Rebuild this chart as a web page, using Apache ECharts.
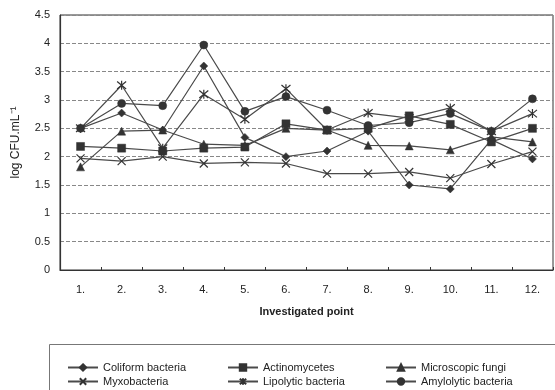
<!DOCTYPE html>
<html>
<head>
<meta charset="utf-8">
<script src="https://cdn.jsdelivr.net/npm/echarts@6/dist/echarts.min.js"></script>
<style>
    html, body { margin: 0; padding: 0; background: #fff; }
    #chart { width: 555px; height: 390px; }
</style>
</head>
<body>
<div id="chart"></div>
<script>
/* ========== log CFU per investigated point ========== */

const points = ["1.", "2.", "3.", "4.", "5.", "6.", "7.", "8.", "9.", "10.", "11.", "12."];

const coliform     = [2.50, 2.77, 2.47, 3.60, 2.34, 2.00, 2.10, 2.45, 1.50, 1.43, 2.30, 1.96];
const actinomyc    = [2.18, 2.15, 2.10, 2.15, 2.17, 2.58, 2.47, 2.50, 2.72, 2.57, 2.26, 2.50];
const fungi        = [1.82, 2.45, 2.47, 2.22, 2.20, 2.50, 2.47, 2.20, 2.19, 2.12, 2.35, 2.26];
const myxo         = [1.97, 1.92, 2.00, 1.88, 1.90, 1.88, 1.70, 1.70, 1.73, 1.62, 1.87, 2.09];
const lipolytic    = [2.50, 3.26, 2.15, 3.10, 2.66, 3.20, 2.47, 2.77, 2.68, 2.86, 2.45, 2.76];
const amylolytic   = [2.50, 2.94, 2.90, 3.97, 2.80, 3.06, 2.82, 2.55, 2.60, 2.76, 2.45, 3.02];

const yTicks = [0, 0.5, 1, 1.5, 2, 2.5, 3, 3.5, 4, 4.5];

const FONT = "Liberation Sans";
const INK = "#333";
const LINE = "#4a4a4a";

const X_MARK = "path://M0,0L10,10M10,0L0,10";
const STAR_MARK = "path://M0,0L10,10M10,0L0,10M5,-1L5,11";

function mkSeries(name, data, symbol, size, stroke) {
    return {
        name, type: "line", data,
        symbol, symbolSize: size,
        lineStyle: { color: LINE, width: 1.2 },
        itemStyle: stroke
            ? { color: "rgba(0,0,0,0)", borderColor: INK, borderWidth: 1.2 }
            : { color: INK, borderColor: INK, borderWidth: 0.5 },
        emphasis: { disabled: true },
        animation: false,
    };
}

// one legend per entry so the 3x2 layout is fixed
function mkLegend(name, left, top) {
    return {
        left, top, data: [name],
        itemWidth: 30, itemHeight: 8,
        textStyle: { fontFamily: FONT, fontSize: 11, color: "#222" },
        selectedMode: false,
    };
}

const chart = echarts.init(document.getElementById("chart"));

chart.setOption({
    backgroundColor: "#fff",
    grid: { left: 60, right: 2, top: 15, bottom: 120, show: true, borderColor: INK, borderWidth: 1 },
    xAxis: {
        type: "category", data: points, boundaryGap: true,
        name: "Investigated point", nameLocation: "middle", nameGap: 36,
        nameTextStyle: { fontFamily: FONT, fontSize: 11, fontWeight: "bold", color: "#222" },
        axisLine: { lineStyle: { color: INK, width: 1.2 } },
        axisTick: { show: true, inside: true, length: 3, lineStyle: { color: INK } },
        axisLabel: { fontFamily: FONT, fontSize: 11, color: "#222", margin: 14 },
    },
    yAxis: {
        type: "value", min: yTicks[0], max: yTicks[yTicks.length - 1], interval: 0.5,
        name: "log CFU.mL\u207B\u00B9", nameLocation: "middle", nameGap: 38, nameRotate: 90,
        nameTextStyle: { fontFamily: FONT, fontSize: 12, color: "#222" },
        axisLine: { show: true, lineStyle: { color: INK, width: 1.2 } },
        axisTick: { show: false },
        axisLabel: { fontFamily: FONT, fontSize: 11, color: "#222", margin: 10 },
        splitLine: { lineStyle: { color: "#888", type: [4, 2], width: 1 } },
    },
    legend: [
        mkLegend("Coliform bacteria", 62, 357),
        mkLegend("Myxobacteria", 62, 371),
        mkLegend("Actinomycetes", 222, 357),
        mkLegend("Lipolytic bacteria", 222, 371),
        mkLegend("Microscopic fungi", 380, 357),
        mkLegend("Amylolytic bacteria", 380, 371),
    ],
    graphic: [{
        type: "rect", silent: true,
        shape: { x: 49.5, y: 344.5, width: 520, height: 60 },
        style: { fill: "none", stroke: "#777", lineWidth: 1 },
    }],
    series: [
        mkSeries("Coliform bacteria", coliform, "diamond", 8, false),
        mkSeries("Actinomycetes", actinomyc, "rect", 8, false),
        mkSeries("Microscopic fungi", fungi, "triangle", 8, false),
        mkSeries("Myxobacteria", myxo, X_MARK, 8, true),
        mkSeries("Lipolytic bacteria", lipolytic, STAR_MARK, 9, true),
        mkSeries("Amylolytic bacteria", amylolytic, "circle", 8, false),
    ],
});
</script>
</body>
</html>
